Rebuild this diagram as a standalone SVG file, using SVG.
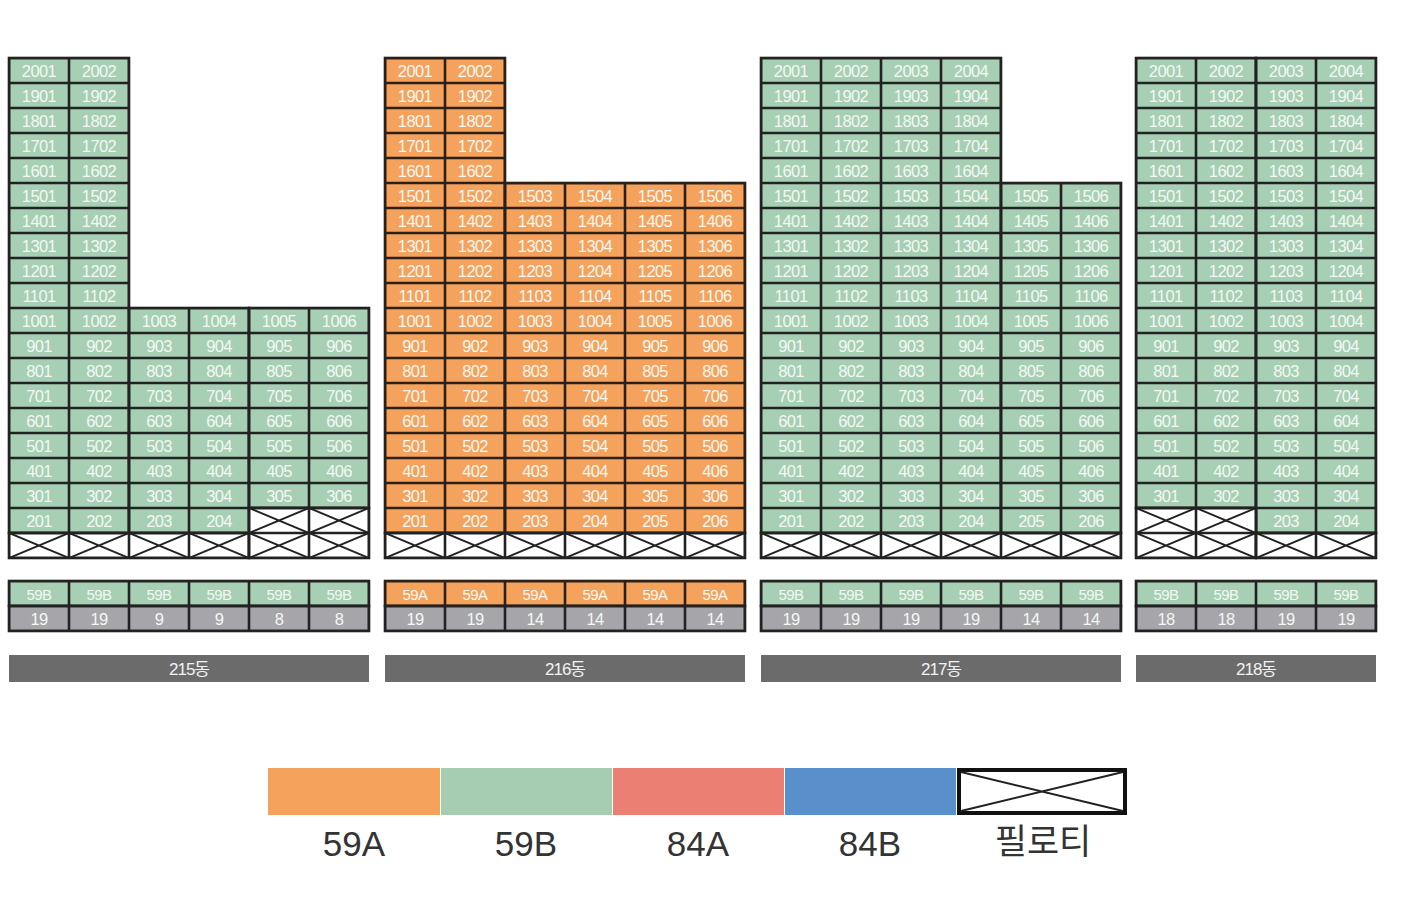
<svg xmlns="http://www.w3.org/2000/svg" width="1407" height="898" viewBox="0 0 1407 898">
<style>
.u{font-family:"Liberation Sans","Noto Sans CJK KR",sans-serif;font-size:16.5px;fill:#f3f8f3;text-anchor:middle;letter-spacing:-0.6px}
.s{font-size:15px}
.bd{stroke:#222;stroke-width:2.6}
.lbl{font-family:"Liberation Sans","Noto Sans CJK KR",sans-serif;font-size:17px;fill:#f2f2f2;text-anchor:middle;letter-spacing:-1px}
.lg{font-family:"Liberation Sans","Noto Sans CJK KR",sans-serif;font-size:35px;fill:#333;text-anchor:middle}
</style>
<defs>
<pattern id="pg" width="60" height="25" patternUnits="userSpaceOnUse">
<rect width="60" height="25" fill="#a7cfb3"/>
<path d="M0 0H60M0 25H60M0 0V25M60 0V25" stroke="#222" stroke-width="2.6" fill="none"/>
</pattern>
<pattern id="po" width="60" height="25" patternUnits="userSpaceOnUse">
<rect width="60" height="25" fill="#f5a25c"/>
<path d="M0 0H60M0 25H60M0 0V25M60 0V25" stroke="#2a2018" stroke-width="2.6" fill="none"/>
</pattern>
<pattern id="py" width="60" height="25" patternUnits="userSpaceOnUse">
<rect width="60" height="25" fill="#a6a6aa"/>
<path d="M0 0H60M0 25H60M0 0V25M60 0V25" stroke="#222" stroke-width="2.6" fill="none"/>
</pattern>
<pattern id="pp" width="60" height="25" patternUnits="userSpaceOnUse">
<rect width="60" height="25" fill="#fff"/>
<path d="M0 0L60 25M0 25L60 0" stroke="#222" stroke-width="2" fill="none"/>
<path d="M0 0H60M0 25H60M0 0V25M60 0V25" stroke="#222" stroke-width="2.6" fill="none"/>
</pattern>
</defs>

<g id="b215" transform="translate(9,58)">
<rect class="bd" x="0" y="0" width="120" height="475" fill="url(#pg)"/>
<rect class="bd" x="120" y="250" width="120" height="225" fill="url(#pg)"/>
<rect class="bd" x="240" y="250" width="120" height="200" fill="url(#pg)"/>
<rect class="bd" x="0" y="475" width="240" height="25" fill="url(#pp)"/>
<rect class="bd" x="240" y="450" width="120" height="50" fill="url(#pp)"/>
<g class="u" transform="translate(0,1)">
<text y="18"><tspan x="30">2001</tspan><tspan x="90">2002</tspan></text>
<text y="43"><tspan x="30">1901</tspan><tspan x="90">1902</tspan></text>
<text y="68"><tspan x="30">1801</tspan><tspan x="90">1802</tspan></text>
<text y="93"><tspan x="30">1701</tspan><tspan x="90">1702</tspan></text>
<text y="118"><tspan x="30">1601</tspan><tspan x="90">1602</tspan></text>
<text y="143"><tspan x="30">1501</tspan><tspan x="90">1502</tspan></text>
<text y="168"><tspan x="30">1401</tspan><tspan x="90">1402</tspan></text>
<text y="193"><tspan x="30">1301</tspan><tspan x="90">1302</tspan></text>
<text y="218"><tspan x="30">1201</tspan><tspan x="90">1202</tspan></text>
<text y="243"><tspan x="30">1101</tspan><tspan x="90">1102</tspan></text>
<text y="268"><tspan x="30">1001</tspan><tspan x="90">1002</tspan><tspan x="150">1003</tspan><tspan x="210">1004</tspan><tspan x="270">1005</tspan><tspan x="330">1006</tspan></text>
<text y="293"><tspan x="30">901</tspan><tspan x="90">902</tspan><tspan x="150">903</tspan><tspan x="210">904</tspan><tspan x="270">905</tspan><tspan x="330">906</tspan></text>
<text y="318"><tspan x="30">801</tspan><tspan x="90">802</tspan><tspan x="150">803</tspan><tspan x="210">804</tspan><tspan x="270">805</tspan><tspan x="330">806</tspan></text>
<text y="343"><tspan x="30">701</tspan><tspan x="90">702</tspan><tspan x="150">703</tspan><tspan x="210">704</tspan><tspan x="270">705</tspan><tspan x="330">706</tspan></text>
<text y="368"><tspan x="30">601</tspan><tspan x="90">602</tspan><tspan x="150">603</tspan><tspan x="210">604</tspan><tspan x="270">605</tspan><tspan x="330">606</tspan></text>
<text y="393"><tspan x="30">501</tspan><tspan x="90">502</tspan><tspan x="150">503</tspan><tspan x="210">504</tspan><tspan x="270">505</tspan><tspan x="330">506</tspan></text>
<text y="418"><tspan x="30">401</tspan><tspan x="90">402</tspan><tspan x="150">403</tspan><tspan x="210">404</tspan><tspan x="270">405</tspan><tspan x="330">406</tspan></text>
<text y="443"><tspan x="30">301</tspan><tspan x="90">302</tspan><tspan x="150">303</tspan><tspan x="210">304</tspan><tspan x="270">305</tspan><tspan x="330">306</tspan></text>
<text y="468"><tspan x="30">201</tspan><tspan x="90">202</tspan><tspan x="150">203</tspan><tspan x="210">204</tspan></text>
</g>
</g>

<g id="b216" transform="translate(385,58)">
<rect x="0" y="0" width="120" height="475" fill="url(#po)" stroke="#2a2018" stroke-width="2.6"/>
<rect x="120" y="125" width="240" height="350" fill="url(#po)" stroke="#2a2018" stroke-width="2.6"/>
<rect class="bd" x="0" y="475" width="360" height="25" fill="url(#pp)"/>
<g class="u" transform="translate(0,1)">
<text y="18"><tspan x="30">2001</tspan><tspan x="90">2002</tspan></text>
<text y="43"><tspan x="30">1901</tspan><tspan x="90">1902</tspan></text>
<text y="68"><tspan x="30">1801</tspan><tspan x="90">1802</tspan></text>
<text y="93"><tspan x="30">1701</tspan><tspan x="90">1702</tspan></text>
<text y="118"><tspan x="30">1601</tspan><tspan x="90">1602</tspan></text>
<text y="143"><tspan x="30">1501</tspan><tspan x="90">1502</tspan><tspan x="150">1503</tspan><tspan x="210">1504</tspan><tspan x="270">1505</tspan><tspan x="330">1506</tspan></text>
<text y="168"><tspan x="30">1401</tspan><tspan x="90">1402</tspan><tspan x="150">1403</tspan><tspan x="210">1404</tspan><tspan x="270">1405</tspan><tspan x="330">1406</tspan></text>
<text y="193"><tspan x="30">1301</tspan><tspan x="90">1302</tspan><tspan x="150">1303</tspan><tspan x="210">1304</tspan><tspan x="270">1305</tspan><tspan x="330">1306</tspan></text>
<text y="218"><tspan x="30">1201</tspan><tspan x="90">1202</tspan><tspan x="150">1203</tspan><tspan x="210">1204</tspan><tspan x="270">1205</tspan><tspan x="330">1206</tspan></text>
<text y="243"><tspan x="30">1101</tspan><tspan x="90">1102</tspan><tspan x="150">1103</tspan><tspan x="210">1104</tspan><tspan x="270">1105</tspan><tspan x="330">1106</tspan></text>
<text y="268"><tspan x="30">1001</tspan><tspan x="90">1002</tspan><tspan x="150">1003</tspan><tspan x="210">1004</tspan><tspan x="270">1005</tspan><tspan x="330">1006</tspan></text>
<text y="293"><tspan x="30">901</tspan><tspan x="90">902</tspan><tspan x="150">903</tspan><tspan x="210">904</tspan><tspan x="270">905</tspan><tspan x="330">906</tspan></text>
<text y="318"><tspan x="30">801</tspan><tspan x="90">802</tspan><tspan x="150">803</tspan><tspan x="210">804</tspan><tspan x="270">805</tspan><tspan x="330">806</tspan></text>
<text y="343"><tspan x="30">701</tspan><tspan x="90">702</tspan><tspan x="150">703</tspan><tspan x="210">704</tspan><tspan x="270">705</tspan><tspan x="330">706</tspan></text>
<text y="368"><tspan x="30">601</tspan><tspan x="90">602</tspan><tspan x="150">603</tspan><tspan x="210">604</tspan><tspan x="270">605</tspan><tspan x="330">606</tspan></text>
<text y="393"><tspan x="30">501</tspan><tspan x="90">502</tspan><tspan x="150">503</tspan><tspan x="210">504</tspan><tspan x="270">505</tspan><tspan x="330">506</tspan></text>
<text y="418"><tspan x="30">401</tspan><tspan x="90">402</tspan><tspan x="150">403</tspan><tspan x="210">404</tspan><tspan x="270">405</tspan><tspan x="330">406</tspan></text>
<text y="443"><tspan x="30">301</tspan><tspan x="90">302</tspan><tspan x="150">303</tspan><tspan x="210">304</tspan><tspan x="270">305</tspan><tspan x="330">306</tspan></text>
<text y="468"><tspan x="30">201</tspan><tspan x="90">202</tspan><tspan x="150">203</tspan><tspan x="210">204</tspan><tspan x="270">205</tspan><tspan x="330">206</tspan></text>
</g>
</g>

<g id="b217" transform="translate(761,58)">
<rect class="bd" x="0" y="0" width="240" height="475" fill="url(#pg)"/>
<rect class="bd" x="240" y="125" width="120" height="350" fill="url(#pg)"/>
<rect class="bd" x="0" y="475" width="360" height="25" fill="url(#pp)"/>
<g class="u" transform="translate(0,1)">
<text y="18"><tspan x="30">2001</tspan><tspan x="90">2002</tspan><tspan x="150">2003</tspan><tspan x="210">2004</tspan></text>
<text y="43"><tspan x="30">1901</tspan><tspan x="90">1902</tspan><tspan x="150">1903</tspan><tspan x="210">1904</tspan></text>
<text y="68"><tspan x="30">1801</tspan><tspan x="90">1802</tspan><tspan x="150">1803</tspan><tspan x="210">1804</tspan></text>
<text y="93"><tspan x="30">1701</tspan><tspan x="90">1702</tspan><tspan x="150">1703</tspan><tspan x="210">1704</tspan></text>
<text y="118"><tspan x="30">1601</tspan><tspan x="90">1602</tspan><tspan x="150">1603</tspan><tspan x="210">1604</tspan></text>
<text y="143"><tspan x="30">1501</tspan><tspan x="90">1502</tspan><tspan x="150">1503</tspan><tspan x="210">1504</tspan><tspan x="270">1505</tspan><tspan x="330">1506</tspan></text>
<text y="168"><tspan x="30">1401</tspan><tspan x="90">1402</tspan><tspan x="150">1403</tspan><tspan x="210">1404</tspan><tspan x="270">1405</tspan><tspan x="330">1406</tspan></text>
<text y="193"><tspan x="30">1301</tspan><tspan x="90">1302</tspan><tspan x="150">1303</tspan><tspan x="210">1304</tspan><tspan x="270">1305</tspan><tspan x="330">1306</tspan></text>
<text y="218"><tspan x="30">1201</tspan><tspan x="90">1202</tspan><tspan x="150">1203</tspan><tspan x="210">1204</tspan><tspan x="270">1205</tspan><tspan x="330">1206</tspan></text>
<text y="243"><tspan x="30">1101</tspan><tspan x="90">1102</tspan><tspan x="150">1103</tspan><tspan x="210">1104</tspan><tspan x="270">1105</tspan><tspan x="330">1106</tspan></text>
<text y="268"><tspan x="30">1001</tspan><tspan x="90">1002</tspan><tspan x="150">1003</tspan><tspan x="210">1004</tspan><tspan x="270">1005</tspan><tspan x="330">1006</tspan></text>
<text y="293"><tspan x="30">901</tspan><tspan x="90">902</tspan><tspan x="150">903</tspan><tspan x="210">904</tspan><tspan x="270">905</tspan><tspan x="330">906</tspan></text>
<text y="318"><tspan x="30">801</tspan><tspan x="90">802</tspan><tspan x="150">803</tspan><tspan x="210">804</tspan><tspan x="270">805</tspan><tspan x="330">806</tspan></text>
<text y="343"><tspan x="30">701</tspan><tspan x="90">702</tspan><tspan x="150">703</tspan><tspan x="210">704</tspan><tspan x="270">705</tspan><tspan x="330">706</tspan></text>
<text y="368"><tspan x="30">601</tspan><tspan x="90">602</tspan><tspan x="150">603</tspan><tspan x="210">604</tspan><tspan x="270">605</tspan><tspan x="330">606</tspan></text>
<text y="393"><tspan x="30">501</tspan><tspan x="90">502</tspan><tspan x="150">503</tspan><tspan x="210">504</tspan><tspan x="270">505</tspan><tspan x="330">506</tspan></text>
<text y="418"><tspan x="30">401</tspan><tspan x="90">402</tspan><tspan x="150">403</tspan><tspan x="210">404</tspan><tspan x="270">405</tspan><tspan x="330">406</tspan></text>
<text y="443"><tspan x="30">301</tspan><tspan x="90">302</tspan><tspan x="150">303</tspan><tspan x="210">304</tspan><tspan x="270">305</tspan><tspan x="330">306</tspan></text>
<text y="468"><tspan x="30">201</tspan><tspan x="90">202</tspan><tspan x="150">203</tspan><tspan x="210">204</tspan><tspan x="270">205</tspan><tspan x="330">206</tspan></text>
</g>
</g>

<g id="b218" transform="translate(1136,58)">
<rect class="bd" x="0" y="0" width="120" height="450" fill="url(#pg)"/>
<rect class="bd" x="120" y="0" width="120" height="475" fill="url(#pg)"/>
<rect class="bd" x="0" y="450" width="120" height="50" fill="url(#pp)"/>
<rect class="bd" x="120" y="475" width="120" height="25" fill="url(#pp)"/>
<g class="u" transform="translate(0,1)">
<text y="18"><tspan x="30">2001</tspan><tspan x="90">2002</tspan><tspan x="150">2003</tspan><tspan x="210">2004</tspan></text>
<text y="43"><tspan x="30">1901</tspan><tspan x="90">1902</tspan><tspan x="150">1903</tspan><tspan x="210">1904</tspan></text>
<text y="68"><tspan x="30">1801</tspan><tspan x="90">1802</tspan><tspan x="150">1803</tspan><tspan x="210">1804</tspan></text>
<text y="93"><tspan x="30">1701</tspan><tspan x="90">1702</tspan><tspan x="150">1703</tspan><tspan x="210">1704</tspan></text>
<text y="118"><tspan x="30">1601</tspan><tspan x="90">1602</tspan><tspan x="150">1603</tspan><tspan x="210">1604</tspan></text>
<text y="143"><tspan x="30">1501</tspan><tspan x="90">1502</tspan><tspan x="150">1503</tspan><tspan x="210">1504</tspan></text>
<text y="168"><tspan x="30">1401</tspan><tspan x="90">1402</tspan><tspan x="150">1403</tspan><tspan x="210">1404</tspan></text>
<text y="193"><tspan x="30">1301</tspan><tspan x="90">1302</tspan><tspan x="150">1303</tspan><tspan x="210">1304</tspan></text>
<text y="218"><tspan x="30">1201</tspan><tspan x="90">1202</tspan><tspan x="150">1203</tspan><tspan x="210">1204</tspan></text>
<text y="243"><tspan x="30">1101</tspan><tspan x="90">1102</tspan><tspan x="150">1103</tspan><tspan x="210">1104</tspan></text>
<text y="268"><tspan x="30">1001</tspan><tspan x="90">1002</tspan><tspan x="150">1003</tspan><tspan x="210">1004</tspan></text>
<text y="293"><tspan x="30">901</tspan><tspan x="90">902</tspan><tspan x="150">903</tspan><tspan x="210">904</tspan></text>
<text y="318"><tspan x="30">801</tspan><tspan x="90">802</tspan><tspan x="150">803</tspan><tspan x="210">804</tspan></text>
<text y="343"><tspan x="30">701</tspan><tspan x="90">702</tspan><tspan x="150">703</tspan><tspan x="210">704</tspan></text>
<text y="368"><tspan x="30">601</tspan><tspan x="90">602</tspan><tspan x="150">603</tspan><tspan x="210">604</tspan></text>
<text y="393"><tspan x="30">501</tspan><tspan x="90">502</tspan><tspan x="150">503</tspan><tspan x="210">504</tspan></text>
<text y="418"><tspan x="30">401</tspan><tspan x="90">402</tspan><tspan x="150">403</tspan><tspan x="210">404</tspan></text>
<text y="443"><tspan x="30">301</tspan><tspan x="90">302</tspan><tspan x="150">303</tspan><tspan x="210">304</tspan></text>
<text y="468"><tspan x="150">203</tspan><tspan x="210">204</tspan></text>
</g>
</g>

<g id="t215" transform="translate(9,581)">
<rect class="bd" x="0" y="0" width="360" height="25" fill="url(#pg)"/>
<rect class="bd" x="0" y="25" width="360" height="25" fill="url(#py)"/>
<g class="u">
<text class="s" y="19"><tspan x="30">59B</tspan><tspan x="90">59B</tspan><tspan x="150">59B</tspan><tspan x="210">59B</tspan><tspan x="270">59B</tspan><tspan x="330">59B</tspan></text>
<text y="44"><tspan x="30">19</tspan><tspan x="90">19</tspan><tspan x="150">9</tspan><tspan x="210">9</tspan><tspan x="270">8</tspan><tspan x="330">8</tspan></text>
</g>
</g>
<g id="t216" transform="translate(385,581)">
<rect x="0" y="0" width="360" height="25" fill="url(#po)" stroke="#2a2018" stroke-width="2.6"/>
<rect class="bd" x="0" y="25" width="360" height="25" fill="url(#py)"/>
<g class="u">
<text class="s" y="19"><tspan x="30">59A</tspan><tspan x="90">59A</tspan><tspan x="150">59A</tspan><tspan x="210">59A</tspan><tspan x="270">59A</tspan><tspan x="330">59A</tspan></text>
<text y="44"><tspan x="30">19</tspan><tspan x="90">19</tspan><tspan x="150">14</tspan><tspan x="210">14</tspan><tspan x="270">14</tspan><tspan x="330">14</tspan></text>
</g>
</g>
<g id="t217" transform="translate(761,581)">
<rect class="bd" x="0" y="0" width="360" height="25" fill="url(#pg)"/>
<rect class="bd" x="0" y="25" width="360" height="25" fill="url(#py)"/>
<g class="u">
<text class="s" y="19"><tspan x="30">59B</tspan><tspan x="90">59B</tspan><tspan x="150">59B</tspan><tspan x="210">59B</tspan><tspan x="270">59B</tspan><tspan x="330">59B</tspan></text>
<text y="44"><tspan x="30">19</tspan><tspan x="90">19</tspan><tspan x="150">19</tspan><tspan x="210">19</tspan><tspan x="270">14</tspan><tspan x="330">14</tspan></text>
</g>
</g>
<g id="t218" transform="translate(1136,581)">
<rect class="bd" x="0" y="0" width="240" height="25" fill="url(#pg)"/>
<rect class="bd" x="0" y="25" width="240" height="25" fill="url(#py)"/>
<g class="u">
<text class="s" y="19"><tspan x="30">59B</tspan><tspan x="90">59B</tspan><tspan x="150">59B</tspan><tspan x="210">59B</tspan></text>
<text y="44"><tspan x="30">18</tspan><tspan x="90">18</tspan><tspan x="150">19</tspan><tspan x="210">19</tspan></text>
</g>
</g>

<g id="labels">
<rect x="9" y="655" width="360" height="27" fill="#6b6b6b"/>
<text class="lbl" x="189" y="675">215동</text>
<rect x="385" y="655" width="360" height="27" fill="#6b6b6b"/>
<text class="lbl" x="565" y="675">216동</text>
<rect x="761" y="655" width="360" height="27" fill="#6b6b6b"/>
<text class="lbl" x="941" y="675">217동</text>
<rect x="1136" y="655" width="240" height="27" fill="#6b6b6b"/>
<text class="lbl" x="1256" y="675">218동</text>
</g>

<g id="legend">
<rect x="268" y="768" width="172" height="47" fill="#f5a35c"/>
<rect x="441" y="768" width="171" height="47" fill="#a6cdb1"/>
<rect x="613" y="768" width="171" height="47" fill="#ec7f73"/>
<rect x="785" y="768" width="171" height="47" fill="#598fcb"/>
<rect x="959" y="770" width="166" height="43" fill="#fff" stroke="#111" stroke-width="4"/>
<path d="M961 772L1123 811M961 811L1123 772" stroke="#222" stroke-width="2" fill="none"/>
<text class="lg" x="354" y="856">59A</text>
<text class="lg" x="526" y="856">59B</text>
<text class="lg" x="698" y="856">84A</text>
<text class="lg" x="870" y="856">84B</text>
<text class="lg" x="1043" y="854" font-size="33">필로티</text>
</g>
</svg>
